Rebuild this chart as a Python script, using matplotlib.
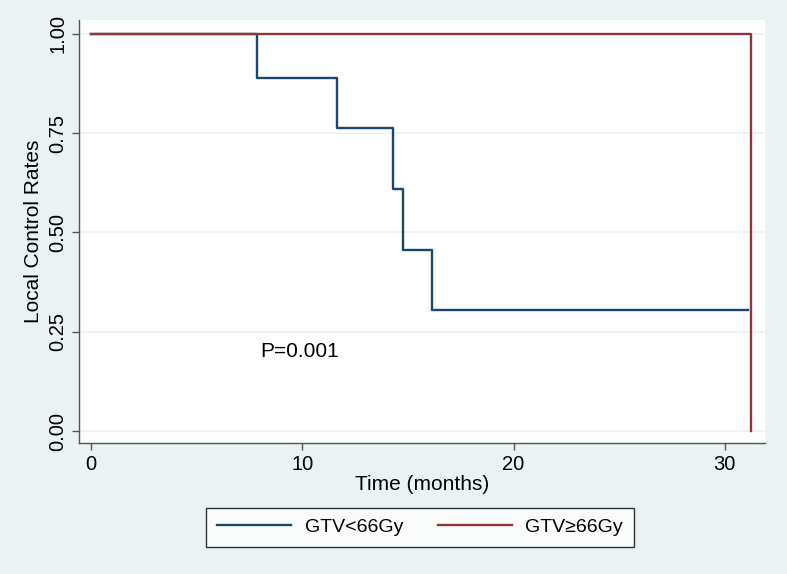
import matplotlib
matplotlib.use("Agg")
import matplotlib.pyplot as plt

# Kaplan-Meier step data
low_times = [0, 7.85, 11.65, 14.3, 14.75, 16.15, 31.1]
low_surv = [1.0, 0.889, 0.762, 0.610, 0.457, 0.305, 0.305]
high_times = [0, 31.25, 31.25]
high_surv = [1.0, 1.0, 0.0]

x_ticks = [0, 10, 20, 30]
y_ticks = [0.0, 0.25, 0.5, 0.75, 1.0]
labels = ["GTV<66Gy", "GTV≥66Gy"]

plt.rcParams["font.family"] = ["Liberation Sans", "DejaVu Sans"]

bg = "#eaf2f3"
fig = plt.figure(figsize=(7.87, 5.74), dpi=100, facecolor=bg)
ax = fig.add_axes([79 / 787, 1 - 443 / 574, (765 - 79) / 787, (443 - 20) / 574])
ax.set_facecolor("white")

ax.step(low_times, low_surv, where="post", color="#1a476f", lw=1.7, label=labels[0])
ax.plot(high_times, high_surv, color="#90353b", lw=1.7, label=labels[1])

ax.set_xlim(-0.57, 31.9)
ax.set_ylim(-0.03, 1.035)
ax.set_xticks(x_ticks)
ax.set_yticks(y_ticks)
ax.set_yticklabels([f"{v:.2f}" for v in y_ticks], rotation=90, va="center")
ax.tick_params(labelsize=14.5, direction="out", length=5, color="#555555", width=1)
ax.grid(axis="y", color=bg, lw=1.2)
ax.set_axisbelow(True)

for s in ["top", "right"]:
    ax.spines[s].set_visible(False)
for s in ["left", "bottom"]:
    ax.spines[s].set_color("#555555")
    ax.spines[s].set_linewidth(1)

ax.set_xlabel("Time (months)", fontsize=15, labelpad=1)
ax.set_ylabel("Local Control Rates", fontsize=15, labelpad=4)
ax.text(8.0, 0.2, "P=0.001", fontsize=15, va="center")

leg = fig.legend(loc="center", bbox_to_anchor=(420 / 787, 1 - 527 / 574), ncol=2,
                 fontsize=14, frameon=True, fancybox=False, handlelength=3.8,
                 handletextpad=0.7, columnspacing=1.8, borderpad=0.55)
leg.get_frame().set_edgecolor("black")
leg.get_frame().set_linewidth(1)

fig.savefig("out.png", dpi=100, facecolor=bg)
